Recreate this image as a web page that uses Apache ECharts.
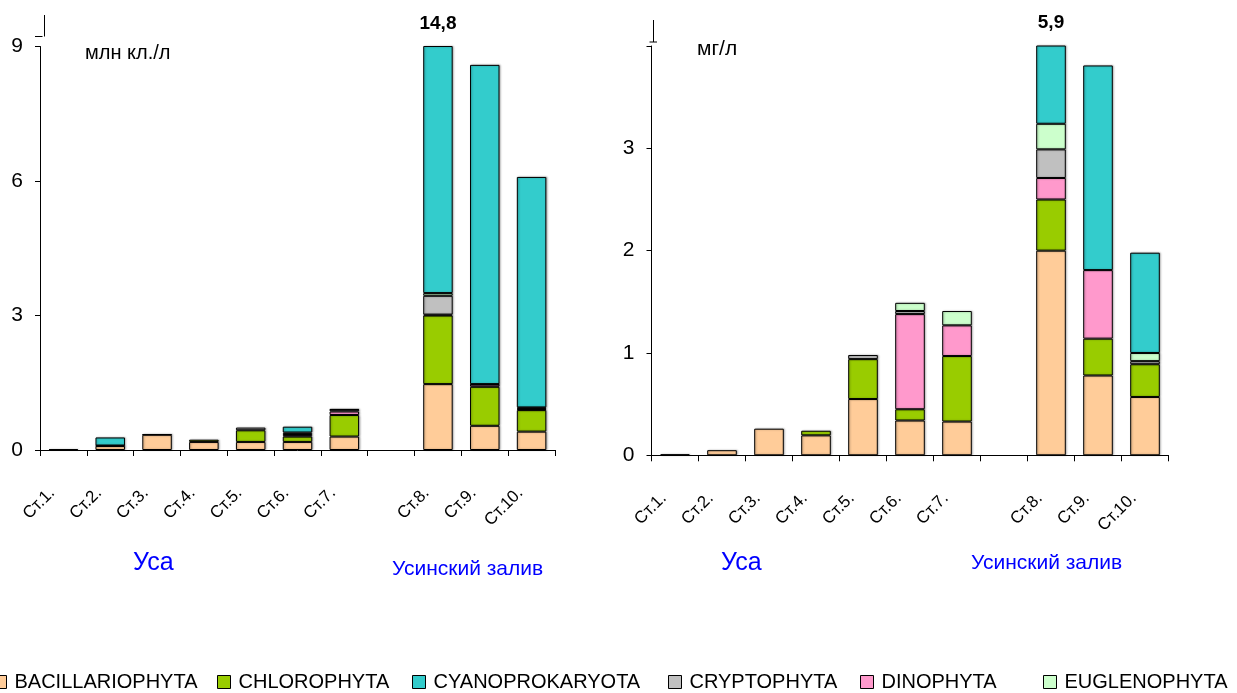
<!DOCTYPE html>
<html>
<head>
<meta charset="utf-8">
<script src="https://cdn.jsdelivr.net/npm/echarts@6/dist/echarts.min.js"></script>
<style>
  html, body { margin: 0; padding: 0; background: #fff; }
  #chart { width: 1237px; height: 693px; }
</style>
</head>
<body>
<div id="chart"></div>
<script>
// Stations (the empty slot separates the river from the bay)
const stations = ['Ст.1.', 'Ст.2.', 'Ст.3.', 'Ст.4.', 'Ст.5.', 'Ст.6.', 'Ст.7.', '', 'Ст.8.', 'Ст.9.', 'Ст.10.'];

// Phytoplankton groups: stacking order and legend order
const groups = ['BACILLARIOPHYTA', 'CHLOROPHYTA', 'DINOPHYTA', 'CRYPTOPHYTA', 'EUGLENOPHYTA', 'CYANOPROKARYOTA'];
const legendOrder = ['BACILLARIOPHYTA', 'CHLOROPHYTA', 'CYANOPROKARYOTA', 'CRYPTOPHYTA', 'DINOPHYTA', 'EUGLENOPHYTA'];

// Abundance, млн кл./л
const bacAbund = [0.02, 0.09, 0.34, 0.18, 0.18, 0.18, 0.30, null, 1.47, 0.54, 0.41];
const chlAbund = [null, 0.01, 0.01, 0.05, 0.26, 0.12, 0.48, null, 1.53, 0.87, 0.48];
const dinAbund = [null, null, null, null, null, 0.03, 0.08, null, 0.02, 0.05, 0.02];
const cryAbund = [null, null, null, null, 0.06, 0.03, 0.04, null, 0.42, 0.01, 0.02];
const eugAbund = [null, null, null, null, null, 0.03, 0.01, null, 0.06, null, 0.02];
const cyaAbund = [null, 0.18, null, null, null, 0.13, null, null, 11.30, 7.12, 5.14];

// Biomass, мг/л
const bacBiom = [0.01, 0.05, 0.26, 0.195, 0.55, 0.34, 0.33, null, 2.00, 0.78, 0.57];
const chlBiom = [null, null, null, 0.045, 0.39, 0.11, 0.64, null, 0.50, 0.36, 0.32];
const dinBiom = [null, null, null, null, null, 0.93, 0.30, null, 0.21, 0.67, null];
const cryBiom = [null, null, null, null, 0.04, 0.03, null, null, 0.28, null, 0.03];
const eugBiom = [null, null, null, null, null, 0.08, 0.14, null, 0.25, null, 0.08];
const cyaBiom = [null, null, null, null, null, null, null, null, 2.66, 2.00, 0.98];

// Value-axis tick labels
const ticksAbund = [0, 3, 6, 9];
const ticksBiom = [0, 1, 2, 3];

const colors = {
  BACILLARIOPHYTA: '#FFCC99',
  CHLOROPHYTA: '#99CC00',
  CYANOPROKARYOTA: '#33CCCC',
  CRYPTOPHYTA: '#C0C0C0',
  DINOPHYTA: '#FF99CC',
  EUGLENOPHYTA: '#CCFFCC'
};

const FONT = "'Liberation Sans', Arial, sans-serif";

const abund = [bacAbund, chlAbund, dinAbund, cryAbund, eugAbund, cyaAbund];
const biom = [bacBiom, chlBiom, dinBiom, cryBiom, eugBiom, cyaBiom];

function totals(sets) {
  return stations.map((_, i) => sets.reduce((s, arr) => s + (arr[i] || 0), 0));
}
const totAbund = totals(abund);
const totBiom = totals(biom);

// Bars taller than the axis are cut at the top; their full value is written above
function buildSeries(sets, tot, axisMax, idx) {
  return groups.map((name, g) => ({
    name: name,
    type: 'bar',
    stack: 'panel' + idx,
    xAxisIndex: idx,
    yAxisIndex: idx,
    barWidth: '63%',
    clip: true,
    itemStyle: {
      color: colors[name], borderColor: '#000', borderWidth: 1,
      shadowColor: 'rgba(0,0,0,0.3)', shadowBlur: 2, shadowOffsetX: 1
    },
    emphasis: { disabled: true },
    data: sets[g].map((v, i) => {
      if (g === groups.length - 1 && tot[i] > axisMax) {
        return {
          value: v,
          label: {
            show: true, position: 'top', distance: 13,
            formatter: tot[i].toFixed(1).replace('.', ','),
            fontFamily: FONT, fontSize: 19, fontWeight: 'bold', color: '#000'
          }
        };
      }
      return v;
    })
  }));
}

const xAxisBase = (gridIndex) => ({
  type: 'category',
  gridIndex: gridIndex,
  data: stations,
  axisLine: { lineStyle: { color: '#000', width: 1 } },
  axisTick: { show: true, length: 6, lineStyle: { color: '#000' } },
  axisLabel: {
    interval: 0, rotate: 45, margin: 29, padding: [0, 16, 0, 0],
    fontFamily: FONT, fontSize: 17, color: '#000'
  }
});

const yAxisBase = (gridIndex, max, interval, shown) => ({
  type: 'value',
  gridIndex: gridIndex,
  min: 0, max: max, interval: interval,
  splitLine: { show: false },
  axisLine: { show: true, lineStyle: { color: '#000', width: 1 } },
  axisTick: { show: true, length: 5, lineStyle: { color: '#000' } },
  axisLabel: {
    margin: 17, fontFamily: FONT, fontSize: 21, color: '#000',
    formatter: (v) => shown.includes(v) ? String(v) : ''
  }
});

const line = (x1, y1, x2, y2) => ({
  type: 'line', silent: true,
  shape: { x1: x1, y1: y1, x2: x2, y2: y2 },
  style: { stroke: '#000', lineWidth: 1 }
});

const text = (x, y, t, size, color) => ({
  type: 'text', silent: true, x: x, y: y,
  style: { text: t, fontFamily: FONT, fontSize: size, fill: color, textVerticalAlign: 'middle' }
});

// One legend block per group so each entry sits at its own place along the bottom row
const legendLefts = [-12, 212, 407, 663, 855, 1038];
const legends = legendOrder.map((name, i) => ({
  data: [name], left: legendLefts[i], top: 667,
  itemWidth: 13, itemHeight: 13, icon: 'rect',
  itemStyle: { borderColor: '#000', borderWidth: 1 },
  textStyle: { fontFamily: FONT, fontSize: 20, color: '#000', padding: [0, 0, 0, 3] },
  selectedMode: false
}));

const option = {
  animation: false,
  backgroundColor: '#fff',
  grid: [
    { left: 40, top: 46.5, width: 515, height: 403.5 },
    { left: 651.5, top: 46, width: 517, height: 409.3 }
  ],
  xAxis: [xAxisBase(0), xAxisBase(1)],
  yAxis: [yAxisBase(0, 9, 3, ticksAbund), yAxisBase(1, 4, 1, ticksBiom)],
  legend: legends,
  graphic: [
    // axis break marks above the value axes
    line(44.5, 15, 44.5, 36.5),
    line(35, 36.5, 42.5, 36.5),
    line(653.5, 20, 653.5, 42),
    line(649.5, 42, 657, 42),
    // units
    text(85, 53, 'млн кл./л', 20, '#000'),
    text(697, 49, 'мг/л', 21, '#000'),
    // water body captions
    text(133, 563, 'Уса', 25, '#0000FF'),
    text(392, 569, 'Усинский залив', 21, '#0000FF'),
    text(721, 563, 'Уса', 25, '#0000FF'),
    text(971, 563, 'Усинский залив', 21, '#0000FF')
  ],
  series: buildSeries(abund, totAbund, 9, 0).concat(buildSeries(biom, totBiom, 4, 1))
};

const chart = echarts.init(document.getElementById('chart'), null, { renderer: 'canvas' });
chart.setOption(option);
</script>
</body>
</html>
